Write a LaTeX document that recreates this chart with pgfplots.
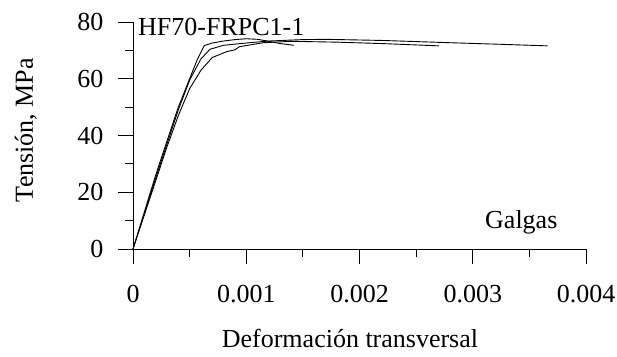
\documentclass[border=0pt]{standalone}
\usepackage{fontspec}
\setmainfont{Liberation Serif}
\usepackage{pgfplots}
\pgfplotsset{compat=1.18}
\begin{document}
\begin{tikzpicture}[x=1pt,y=1pt]
\useasboundingbox (0,0) rectangle (617,356);
\begin{axis}[
  at={(133pt,107pt)}, anchor=south west,
  scale only axis, width=453pt, height=227pt,
  xmin=0, xmax=0.004, ymin=0, ymax=80,
  axis x line*=bottom, axis y line*=left,
  axis line style={line width=0.8pt},
  every tick/.style={black, line width=0.8pt},
  tick align=outside,
  major tick length=15pt, minor tick length=8pt,
  xtick={0,0.001,0.002,0.003,0.004},
  xticklabels={0,0.001,0.002,0.003,0.004},
  minor xtick={0.0005,0.0015,0.0025,0.0035},
  ytick={0,20,40,60,80},
  yticklabels={0,20,40,60,80},
  minor ytick={10,30,50,70},
  scaled x ticks=false,
  tick label style={font=\fontsize{26}{30}\selectfont},
  xticklabel style={anchor=north, yshift=-18pt},
  yticklabel style={anchor=east, xshift=-11pt},
  label style={font=\fontsize{26}{30}\selectfont},
  xlabel={Deformación transversal},
  ylabel={Tensión, MPa},
  xlabel style={at={(axis description cs:0.479,-0.392)}, anchor=center},
  ylabel style={at={(axis description cs:-0.2363,0.524)}, anchor=center, rotate=0},
  clip=false,
]
\addplot[black, line width=0.9pt] coordinates {
(0,0) (0.0001,13) (0.0002,26) (0.0003,38) (0.0004,50) (0.0005,60) (0.00057,67) (0.00063,71.7) (0.0007,72.6) (0.0008,73.3) (0.0009,73.8) (0.001,74.1) (0.0011,73.9) (0.0012,73.2) (0.0013,72.4) (0.00142,71.8)
};
\addplot[black, line width=0.9pt] coordinates {
(0,0) (0.0001,12.5) (0.0002,25) (0.0003,37) (0.0004,49) (0.0005,59.5) (0.0006,67) (0.00068,70.4) (0.0008,71.8) (0.001,72.6) (0.0012,73.3) (0.0015,73.8) (0.0017,73.9) (0.0022,73.5) (0.0028,72.7) (0.0032,72.2) (0.00366,71.6)
};
\addplot[black, line width=0.9pt] coordinates {
(0,0) (0.0001,12) (0.0002,24) (0.0003,36) (0.0004,47) (0.0005,56.5) (0.0006,63) (0.0007,67.5) (0.00083,69.6) (0.0009,70.2) (0.00094,71.3) (0.00115,72.7) (0.0014,73.2) (0.0018,72.9) (0.0022,72.4) (0.0027,71.6)
};
\node[anchor=base west, inner sep=0pt, font=\fontsize{26}{30}\selectfont] at (axis cs:0.000044,75.1) {HF70-FRPC1-1};
\node[anchor=base west, inner sep=0pt, font=\fontsize{26}{30}\selectfont] at (axis cs:0.003108,7.4) {Galgas};
\end{axis}
\end{tikzpicture}
\end{document}
